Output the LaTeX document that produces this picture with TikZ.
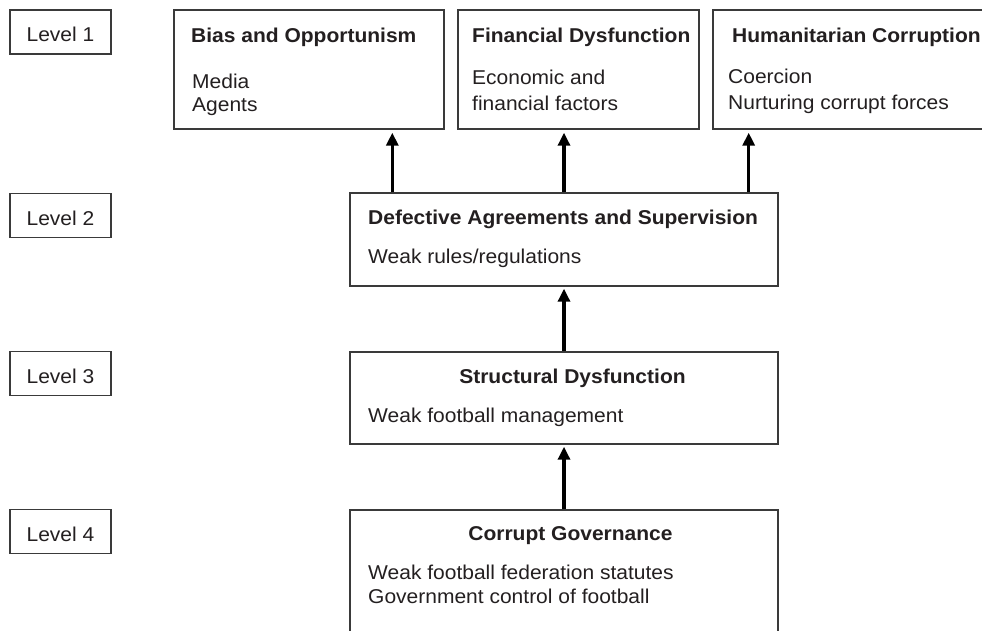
\documentclass[tikz,border=0pt]{standalone}
\usepackage{fontspec}
\setmainfont{Liberation Sans}[FakeStretch=1.05]
\usetikzlibrary{arrows.meta}
\definecolor{boxgray}{HTML}{3A3A3A}
\definecolor{inkgray}{HTML}{231F20}
\newcommand{\bodyfont}{\fontsize{20}{26}\selectfont}
\tikzset{
  box/.style={draw=boxgray, line width=1.4pt, inner sep=0pt, minimum height=119pt},
  lev/.style={box, minimum width=101pt, minimum height=44pt, text=inkgray, text height=19pt, text depth=0pt},
  ttl/.style={anchor=base west, font=\bodyfont\bfseries, text=inkgray, inner sep=0pt},
  itm/.style={anchor=base west, align=left, text=inkgray, inner sep=0pt},
  up/.style={-{Triangle[width=12pt,length=13pt]}, line width=3.2pt, shorten >=3pt}
}
\begin{document}
\begin{tikzpicture}[x=1pt,y=-1pt,font=\bodyfont]
  \useasboundingbox (0,0) rectangle (982,630);
  %livelli
  \node[lev] (lev1) at (60.5,32) {Level 1};
  \node[lev] (lev2) at (60.5,215.5) {Level 2};
  \node[lev] (lev3) at (60.5,373.5) {Level 3};
  \node[lev] (lev4) at (60.5,531.5) {Level 4};
  %riquadri
  \node[box, minimum width=270pt] (bias) at (309,69.5) {};
  \node[box, minimum width=241pt] (fin) at (578.5,69.5) {};
  \node[box, minimum width=290pt] (hum) at (858,69.5) {};
  \node[box, minimum width=428pt, minimum height=93pt] (defect) at (564,239.5) {};
  \node[box, minimum width=428pt, minimum height=92pt] (struct) at (564,398) {};
  \node[box, minimum width=428pt, minimum height=160pt] (govern) at (564,590) {};
  %testi (base = ultima riga)
  \node[ttl] (biasT) at (191,42) {Bias and Opportunism};
  \node[itm] (biasI) at (192,111) {Media\\[-3pt]Agents};
  \node[ttl] (finT) at (472,42) {Financial Dysfunction};
  \node[itm] (finI) at (472,110) {Economic and\\financial factors};
  \node[ttl] (humT) at (732,42) {Humanitarian Corruption};
  \node[itm] (humI) at (728,109) {Coercion\\Nurturing corrupt forces};
  \node[ttl] (defT) at (368,224) {Defective Agreements and Supervision};
  \node[itm] (defI) at (368,263) {Weak rules/regulations};
  \node[ttl, anchor=base] (strT) at (572.5,383) {Structural Dysfunction};
  \node[itm] (strI) at (368,422) {Weak football management};
  \node[ttl, anchor=base] (govT) at (570.5,540) {Corrupt Governance};
  \node[itm] (govI) at (368,603) {Weak football federation statutes\\[-2pt]Government control of football};
  %frecce
  \coordinate (a1) at ([xshift=43pt]defect.north west);
  \coordinate (a3) at ([xshift=-30pt]defect.north east);
  \draw[up] (a1) -- (a1 |- bias.south);
  \draw[up] (defect.north) -- (defect.north |- fin.south);
  \draw[up] (a3) -- (a3 |- hum.south);
  \draw[up, shorten >=2pt] (struct.north) -- (defect.south);
  \draw[up, shorten >=2pt] (govern.north) -- (struct.south);
\end{tikzpicture}
\end{document}
